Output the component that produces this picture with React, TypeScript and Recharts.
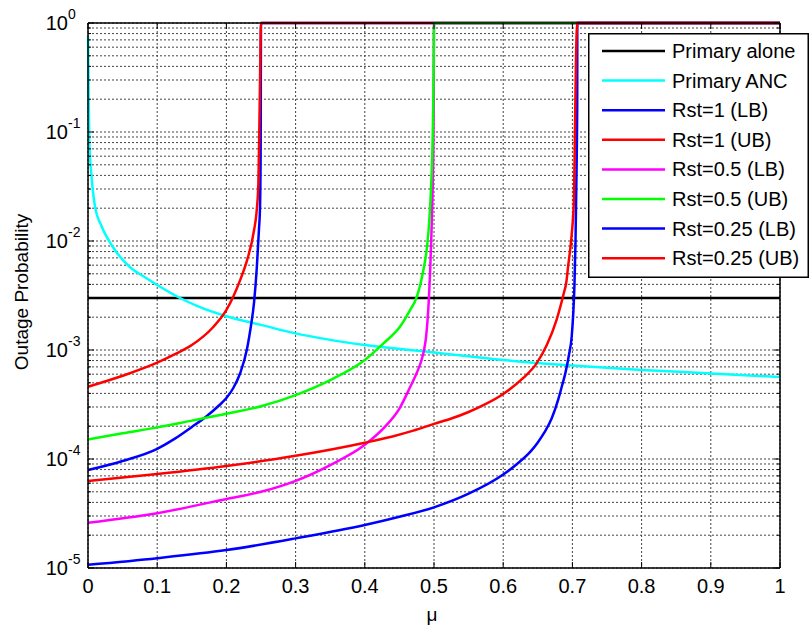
import React from 'react';
import { LineChart, Line, XAxis, YAxis, CartesianGrid, Legend } from 'recharts';

type Pt = [number, number];

const xTicks = [0, 0.1, 0.2, 0.3, 0.4, 0.5, 0.6, 0.7, 0.8, 0.9, 1];
const xTickLabels = ['0', '0.1', '0.2', '0.3', '0.4', '0.5', '0.6', '0.7', '0.8', '0.9', '1'];
const yMajorTicks = [1e-5, 1e-4, 1e-3, 1e-2, 1e-1, 1];
const yTickExponents = ['-5', '-4', '-3', '-2', '-1', '0'];
const yMinorSteps = [2, 3, 4, 5, 6, 7, 8, 9];

const primaryAlone: Pt[] = [[0, 3.0e-3], [1, 3.0e-3]];
const primaryANC: Pt[] = [
  [0, 0.75], [0.0005, 0.4], [0.001, 0.2], [0.002, 0.08], [0.005, 0.04], [0.01, 0.021],
  [0.02, 0.0135], [0.035, 9.0e-3], [0.06, 5.8e-3], [0.08, 4.75e-3], [0.1, 3.95e-3], [0.133, 3.0e-3],
  [0.16, 2.5e-3], [0.2, 2.04e-3], [0.25, 1.7e-3], [0.3, 1.42e-3], [0.4, 1.11e-3],
  [0.5, 9.5e-4], [0.6, 8.1e-4], [0.7, 7.2e-4], [0.8, 6.56e-4], [0.9, 6.1e-4], [1, 5.65e-4],
];
const rst1LB: Pt[] = [
  [0, 7.93e-5], [0.05, 9.6e-5], [0.1, 1.24e-4], [0.125, 1.53e-4], [0.15, 1.97e-4], [0.17, 2.43e-4],
  [0.19, 3.13e-4], [0.2, 3.63e-4], [0.21, 4.48e-4], [0.22, 6.15e-4], [0.23, 1.04e-3], [0.235, 1.59e-3],
  [0.24, 2.75e-3], [0.244, 5.77e-3], [0.247, 0.0126], [0.2486, 0.0205], [0.2495, 0.068],
  [0.25, 1], [1, 1],
];
const rst1UB: Pt[] = [
  [0, 4.6e-4], [0.05, 5.8e-4], [0.1, 7.65e-4], [0.125, 9.1e-4], [0.15, 1.11e-3], [0.18, 1.6e-3],
  [0.2, 2.33e-3], [0.21, 3.1e-3], [0.22, 4.4e-3], [0.23, 6.7e-3], [0.24, 0.0126], [0.2438, 0.019],
  [0.2462, 0.034], [0.2475, 0.098], [0.2486, 0.3], [0.25, 1], [1, 1],
];
const rst05LB: Pt[] = [
  [0, 2.6e-5], [0.1, 3.18e-5], [0.2, 4.3e-5], [0.25, 5.0e-5], [0.3, 6.3e-5], [0.35, 8.8e-5],
  [0.4, 1.35e-4], [0.43, 2.0e-4], [0.45, 2.9e-4], [0.465, 4.5e-4], [0.475, 6.15e-4],
  [0.482, 8.1e-4], [0.485, 9.6e-4], [0.488, 1.24e-3], [0.4905, 1.81e-3], [0.4925, 2.87e-3],
  [0.4945, 5.42e-3], [0.496, 0.0102], [0.4975, 0.0214], [0.4988, 0.0553], [0.4996, 0.197],
  [0.5, 1], [1, 1],
];
const rst05UB: Pt[] = [
  [0, 1.51e-4], [0.05, 1.72e-4], [0.1, 1.95e-4], [0.15, 2.25e-4], [0.2, 2.6e-4], [0.25, 3.05e-4],
  [0.3, 3.86e-4], [0.35, 5.3e-4], [0.4, 8.1e-4], [0.427, 1.15e-3], [0.451, 1.64e-3],
  [0.465, 2.3e-3], [0.475, 3.05e-3], [0.4846, 5.4e-3], [0.489, 7.9e-3], [0.492, 0.0121],
  [0.4945, 0.0214], [0.4965, 0.0403], [0.498, 0.0845], [0.499, 0.197], [0.4997, 0.565],
  [0.5, 1], [1, 1],
];
const rst025LB: Pt[] = [
  [0, 1.07e-5], [0.1, 1.23e-5], [0.2, 1.46e-5], [0.3, 1.87e-5], [0.4, 2.48e-5], [0.45, 2.95e-5],
  [0.5, 3.6e-5], [0.55, 4.8e-5], [0.6, 7.2e-5], [0.62, 9.0e-5], [0.64, 1.18e-4], [0.65, 1.42e-4],
  [0.66, 1.77e-4], [0.67, 2.35e-4], [0.68, 3.6e-4], [0.685, 4.7e-4], [0.69, 6.2e-4],
  [0.695, 9.0e-4], [0.699, 1.33e-3], [0.7013, 2.2e-3], [0.703, 4.0e-3], [0.7045, 0.01],
  [0.706, 0.045], [0.707, 0.2], [0.7071, 1], [1, 1],
];
const rst025UB: Pt[] = [
  [0, 6.28e-5], [0.1, 7.28e-5], [0.2, 8.63e-5], [0.3, 1.07e-4], [0.4, 1.41e-4], [0.44, 1.61e-4],
  [0.47, 1.82e-4], [0.5, 2.1e-4], [0.525, 2.35e-4], [0.55, 2.7e-4], [0.575, 3.2e-4], [0.6, 3.95e-4],
  [0.629, 5.54e-4], [0.648, 7.5e-4], [0.663, 1.11e-3], [0.677, 1.88e-3], [0.688, 3.4e-3],
  [0.691, 4.1e-3], [0.694, 6.0e-3], [0.699, 0.0115], [0.7023, 0.025], [0.7037, 0.1], [0.705, 0.4],
  [0.7071, 1], [1, 1],
];

const seriesNames = [
  'Primary alone', 'Primary ANC', 'Rst=1 (LB)', 'Rst=1 (UB)',
  'Rst=0.5 (LB)', 'Rst=0.5 (UB)', 'Rst=0.25 (LB)', 'Rst=0.25 (UB)',
];
const seriesColors = ['#000000', '#00FFFF', '#0000FF', '#FF0000', '#FF00FF', '#00FF00', '#0000FF', '#FF0000'];
const seriesPoints = [primaryAlone, primaryANC, rst1LB, rst1UB, rst05LB, rst05UB, rst025LB, rst025UB];

const FONT = '"Liberation Sans", Arial, Helvetica, sans-serif';

const yMinorTicks = yMajorTicks.slice(0, -1).flatMap((d) => yMinorSteps.map((m) => d * m));
const yAllTicks = [...yMajorTicks, ...yMinorTicks].sort((a, b) => a - b);

const majorIndex = (v: number) =>
  yMajorTicks.findIndex((t) => Math.abs(Math.log10(t) - Math.log10(v)) < 1e-6);

const series = seriesNames.map((name, i) => ({
  name,
  color: seriesColors[i],
  rows: seriesPoints[i].map(([mu, p]) => ({ mu, p })),
}));

const XTickBottom = (props: any) => {
  const { x, y, payload } = props;
  const i = xTicks.findIndex((t) => Math.abs(t - payload.value) < 1e-9);
  return (
    <g>
      <line x1={x} x2={x} y1={y} y2={y - 6} stroke="#000" strokeWidth={1} />
      <text x={x} y={y + 25} textAnchor="middle" fontSize={20} fontFamily={FONT} fill="#000">
        {i >= 0 ? xTickLabels[i] : ''}
      </text>
    </g>
  );
};

const XTickTop = (props: any) => {
  const { x, y } = props;
  return <line x1={x} x2={x} y1={y} y2={y + 6} stroke="#000" strokeWidth={1} />;
};

const YTickLeft = (props: any) => {
  const { x, y, payload } = props;
  const i = majorIndex(payload.value);
  if (i < 0) {
    return <line x1={x} x2={x + 3} y1={y} y2={y} stroke="#000" strokeWidth={1} />;
  }
  return (
    <g>
      <line x1={x} x2={x + 6} y1={y} y2={y} stroke="#000" strokeWidth={1} />
      <text x={x - 20} y={y + 7} textAnchor="end" fontSize={20} fontFamily={FONT} fill="#000">10</text>
      <text x={x - 20} y={y - 4} textAnchor="start" fontSize={14} fontFamily={FONT} fill="#000">
        {yTickExponents[i]}
      </text>
    </g>
  );
};

const YTickRight = (props: any) => {
  const { x, y, payload } = props;
  const len = majorIndex(payload.value) < 0 ? 3 : 6;
  return <line x1={x} x2={x - len} y1={y} y2={y} stroke="#000" strokeWidth={1} />;
};

const XLabel = (props: any) => {
  const vb = props.viewBox || { x: 88, y: 568, width: 692, height: 1 };
  return (
    <text x={vb.x + vb.width / 2 - 2} y={568 + 53} textAnchor="middle" fontSize={19} fontFamily={FONT} fill="#000">
      μ
    </text>
  );
};

const YLabel = () => {
  const cx = 28;
  const cy = 292;
  return (
    <text x={cx} y={cy} transform={`rotate(-90 ${cx} ${cy})`} textAnchor="middle" fontSize={19} fontFamily={FONT} fill="#000">
      Outage Probability
    </text>
  );
};

const LegendBox = () => {
  const w = 221;
  const h = 245;
  return (
    <svg width={w} height={h} style={{ display: 'block' }}>
      <rect x={0.75} y={0.75} width={w - 1.5} height={h - 1.5} fill="#fff" stroke="#000" strokeWidth={1.5} />
      {series.map((s, i) => {
        const cy = 18 + i * 29.6;
        return (
          <g key={s.name}>
            <line x1={14} x2={77} y1={cy} y2={cy} stroke={s.color} strokeWidth={2.5} />
            <text x={84} y={cy + 7} fontSize={20} fontFamily={FONT} fill="#000">{s.name}</text>
          </g>
        );
      })}
    </svg>
  );
};

export default function App() {
  return (
    <div style={{ position: 'absolute', left: 0, top: 0, background: '#fff' }}>
      <LineChart width={811} height={635} margin={{ top: 22, right: 30, bottom: 66, left: 87 }}>
        <CartesianGrid stroke="#444" strokeDasharray="2 2" strokeWidth={1} />
        <XAxis
          dataKey="mu"
          type="number"
          domain={[0, 1]}
          ticks={xTicks}
          height={1}
          tickSize={0}
          tickMargin={0}
          tickLine={false}
          tick={<XTickBottom />}
          axisLine={{ stroke: '#000', strokeWidth: 1.5 }}
          interval={0}
          label={<XLabel />}
        />
        <XAxis
          xAxisId="top"
          orientation="top"
          dataKey="mu"
          type="number"
          domain={[0, 1]}
          ticks={xTicks}
          allowDataOverflow
          height={1}
          tickSize={0}
          tickMargin={0}
          tickLine={false}
          tick={<XTickTop />}
          axisLine={{ stroke: '#000', strokeWidth: 1.5 }}
          interval={0}
        />
        <YAxis
          scale="log"
          type="number"
          domain={[1e-5, 1]}
          ticks={yAllTicks}
          width={1}
          tickSize={0}
          tickMargin={0}
          tickLine={false}
          tick={<YTickLeft />}
          axisLine={{ stroke: '#000', strokeWidth: 1.5 }}
          interval={0}
          label={<YLabel />}
        />
        <YAxis
          yAxisId="right"
          orientation="right"
          scale="log"
          type="number"
          domain={[1e-5, 1]}
          ticks={yAllTicks}
          allowDataOverflow
          width={1}
          tickSize={0}
          tickMargin={0}
          tickLine={false}
          tick={<YTickRight />}
          axisLine={{ stroke: '#000', strokeWidth: 1.5 }}
          interval={0}
        />
        {series.map((s) => (
          <Line
            key={s.name}
            name={s.name}
            data={s.rows}
            dataKey="p"
            type="monotone"
            stroke={s.color}
            strokeWidth={2.5}
            dot={false}
            activeDot={false}
            isAnimationActive={false}
          />
        ))}
        <Legend
          layout="vertical"
          align="center"
          verticalAlign="middle"
          content={() => <LegendBox />}
          wrapperStyle={{ position: 'absolute', left: 588, top: 33, right: 'auto', bottom: 'auto', width: 221, height: 245 }}
        />
      </LineChart>
    </div>
  );
}
